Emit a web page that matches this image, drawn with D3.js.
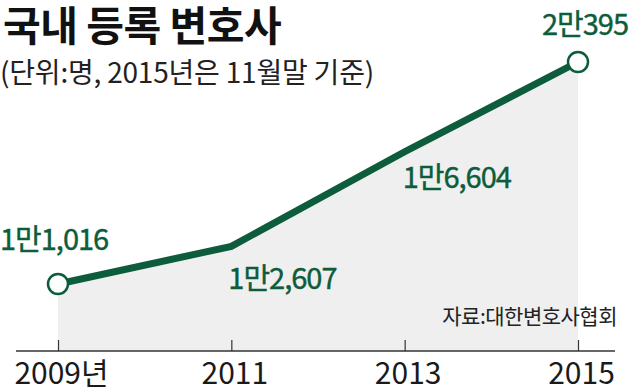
<!DOCTYPE html>
<html>
<head>
<meta charset="utf-8">
<script src="https://cdn.jsdelivr.net/npm/d3@7"></script>
<style>
  body { margin: 0; background: #fff; }
  text { font-family: "Noto Sans CJK KR", sans-serif; }
</style>
</head>
<body>
<div id="container"></div>
<script>
/* DATA */
const years = [2009, 2011, 2013, 2015]
const lawyers = [11016, 12607, 16604, 20395]
const valueLabels = ["1만1,016", "1만2,607", "1만6,604", "2만395"]
const tickLabels = ["2009년", "2011", "2013", "2015"]

/* CONSTANTS */
const width = 640,
  height = 392
const green = "#0d5c3b"

// where each value label sits relative to its point (layout only)
const labelOffsets = [[-58, -34], [-3, 43], [-2, 36], [-36, -27]]

const data = years.map((y, i) => ({ year: y, count: lawyers[i], label: valueLabels[i] }))

const svg = d3.select("#container")
  .append("svg")
  .attr("width", width)
  .attr("height", height)

const xScale = d3.scalePoint()
  .domain(years)
  .range([58, 578])

const yScale = d3.scaleLinear()
  .domain([11016, 20395])
  .range([284, 62])

const baseY = 351

// area under the line
const area = d3.area()
  .x(d => xScale(d.year))
  .y0(baseY)
  .y1(d => yScale(d.count))

svg.append("path")
  .datum(data)
  .attr("d", area)
  .attr("fill", "#efefef")

// x axis
const xAxis = d3.axisBottom(xScale)
  .tickSize(-11)
  .tickPadding(9)
  .tickFormat((d, i) => tickLabels[i])

const gx = svg.append("g")
  .attr("transform", `translate(0,${baseY})`)
  .call(xAxis)

gx.select(".domain").remove()
gx.append("line")
  .attr("x1", 16).attr("x2", 615)
  .attr("stroke", "#333").attr("stroke-width", 1.5)
gx.selectAll(".tick line").attr("stroke", "#333").attr("stroke-width", 1.2)
gx.selectAll(".tick text")
  .attr("fill", "#1a1a1a")
  .style("font-size", "30px")
  .attr("dy", "0.8em")
  .attr("dx", 3)

// line
const line = d3.line()
  .x(d => xScale(d.year))
  .y(d => yScale(d.count))

svg.append("path")
  .datum(data)
  .attr("d", line)
  .attr("fill", "none")
  .attr("stroke", green)
  .attr("stroke-width", 7)

// end circles
svg.selectAll(".dot")
  .data([data[0], data[data.length - 1]])
  .join("circle")
  .attr("class", "dot")
  .attr("cx", d => xScale(d.year))
  .attr("cy", d => yScale(d.count))
  .attr("r", 10)
  .attr("fill", "#fff")
  .attr("stroke", green)
  .attr("stroke-width", 2.5)

// value labels
svg.selectAll(".val")
  .data(data)
  .join("text")
  .attr("class", "val")
  .attr("x", (d, i) => xScale(d.year) + labelOffsets[i][0])
  .attr("y", (d, i) => yScale(d.count) + labelOffsets[i][1])
  .attr("fill", green)
  .style("font-size", "29px")
  .style("letter-spacing", "-1px")
  .style("stroke", green)
  .style("stroke-width", "0.4px")
  .text(d => d.label)

// titles
svg.append("text")
  .attr("x", 3).attr("y", 41)
  .attr("fill", "#111")
  .style("font-size", "41px")
  .style("font-weight", "bold")
  .style("letter-spacing", "-0.5px")
  .text("국내 등록 변호사")

svg.append("text")
  .attr("x", 0).attr("y", 83)
  .attr("fill", "#222")
  .style("font-size", "28px")
  .style("letter-spacing", "-0.2px")
  .text("(단위:명, 2015년은 11월말 기준)")

svg.append("text")
  .attr("x", 617).attr("y", 324)
  .attr("text-anchor", "end")
  .attr("fill", "#222")
  .style("font-size", "21px")
  .style("letter-spacing", "-0.5px")
  .text("자료:대한변호사협회")
</script>
</body>
</html>
